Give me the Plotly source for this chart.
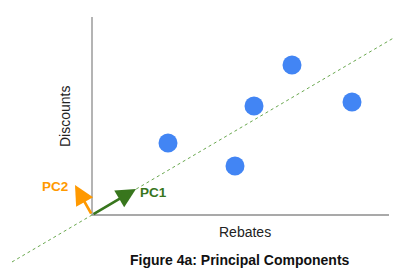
import plotly.graph_objects as go

# data (pixel-like units, origin at axes corner)
rebates = [76, 143, 162, 200, 260]
discounts = [72, 49, 109, 150, 113]
pc_slope = 0.587
pc_line_x = [-80, 302]
pc1_vec = [44, 26]
pc2_vec = [-17, 30]
axis_len_x = 297
axis_len_y = 198

fig = go.Figure()
# axes
fig.add_trace(go.Scatter(x=[0, axis_len_x], y=[0, 0], mode="lines",
                         line=dict(color="#8c8c8c", width=1.3), hoverinfo="skip"))
fig.add_trace(go.Scatter(x=[0, 0], y=[0, axis_len_y], mode="lines",
                         line=dict(color="#8c8c8c", width=1.3), hoverinfo="skip"))
# principal direction line
fig.add_trace(go.Scatter(x=pc_line_x, y=[pc_slope * v for v in pc_line_x], mode="lines",
                         line=dict(color="#6aa84f", width=1, dash="3px,3px"), hoverinfo="skip"))
# points
fig.add_trace(go.Scatter(x=rebates, y=discounts, mode="markers",
                         marker=dict(size=19, color="#4285f4", line=dict(width=0))))

# arrows
fig.add_annotation(x=pc1_vec[0], y=pc1_vec[1], ax=0, ay=0, xref="x", yref="y",
                   axref="x", ayref="y", showarrow=True, arrowhead=2, arrowsize=1.5,
                   arrowwidth=2.6, arrowcolor="#38761d", text="")
fig.add_annotation(x=pc2_vec[0], y=pc2_vec[1], ax=0, ay=0, xref="x", yref="y",
                   axref="x", ayref="y", showarrow=True, arrowhead=2, arrowsize=1.5,
                   arrowwidth=2.6, arrowcolor="#ff9900", text="")
fig.add_annotation(x=61, y=23, text="<b>PC1</b>", showarrow=False,
                   font=dict(family="Liberation Sans, Arial", size=13.5, color="#38761d"))
fig.add_annotation(x=-37, y=29, text="<b>PC2</b>", showarrow=False,
                   font=dict(family="Liberation Sans, Arial", size=13.5, color="#ff9900"))
# axis titles
fig.add_annotation(x=153, y=-17, text="Rebates", showarrow=False,
                   font=dict(family="Liberation Sans, Arial", size=14, color="#222222"))
fig.add_annotation(x=-27, y=98, text="Discounts", showarrow=False, textangle=-90,
                   font=dict(family="Liberation Sans, Arial", size=14, color="#222222"))
# caption
fig.add_annotation(x=148, y=-45, text="<b>Figure 4a: Principal Components</b>", showarrow=False,
                   font=dict(family="Liberation Sans, Arial", size=14, color="#111111"))

fig.update_layout(width=400, height=276, margin=dict(l=0, r=0, t=0, b=0),
                  paper_bgcolor="white", plot_bgcolor="white", showlegend=False)
fig.update_xaxes(range=[-92, 308], visible=False, fixedrange=True)
fig.update_yaxes(range=[-61, 215], visible=False, fixedrange=True)

fig.write_html("out.html")
